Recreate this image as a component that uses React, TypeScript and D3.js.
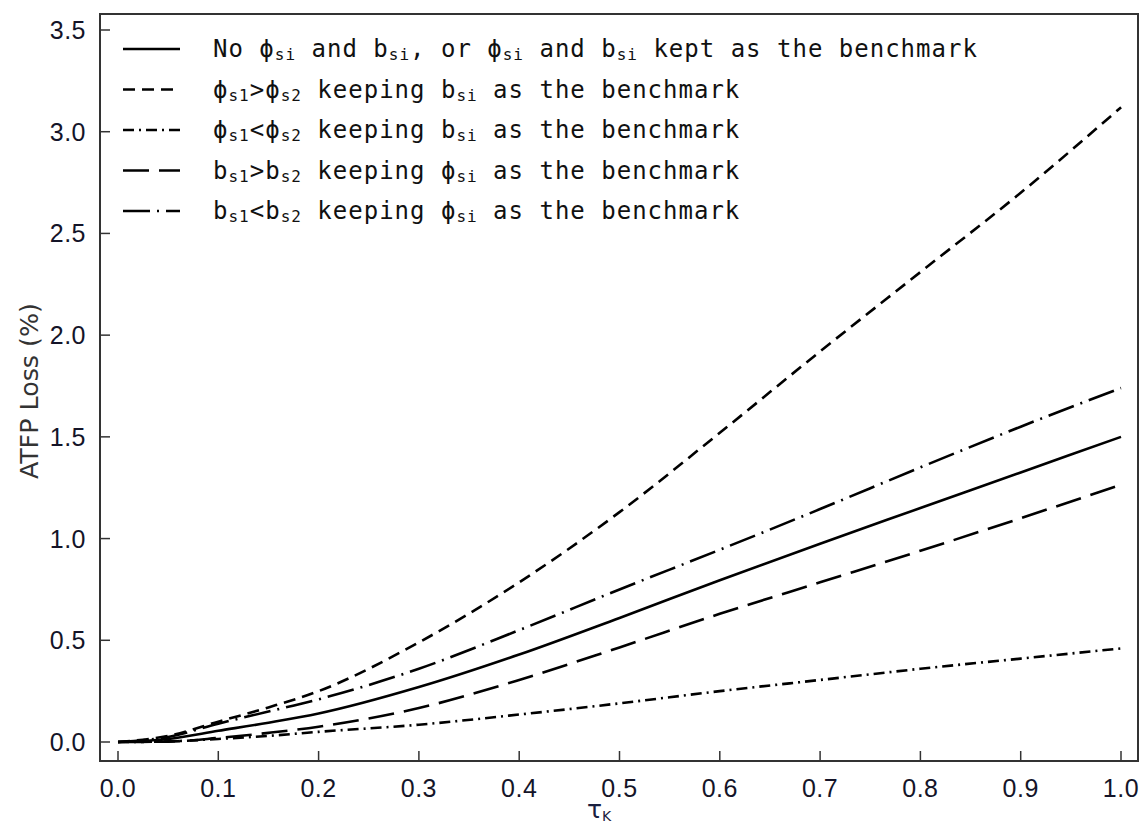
import React from 'react';
import * as d3 from 'd3';

// tau_K values on the x axis
const tau = [0, 0.05, 0.1, 0.15, 0.2, 0.3, 0.4, 0.5, 0.6, 0.7, 0.8, 0.9, 1.0];

// ATFP loss (%) per scenario
const lossBase = [0, 0.015, 0.055, 0.095, 0.14, 0.27, 0.43, 0.61, 0.795, 0.975, 1.15, 1.325, 1.5];
const lossPhiHigh = [0, 0.03, 0.1, 0.17, 0.25, 0.49, 0.785, 1.13, 1.52, 1.92, 2.31, 2.7, 3.12];
const lossPhiLow = [0, 0.003, 0.015, 0.03, 0.05, 0.085, 0.135, 0.19, 0.25, 0.305, 0.36, 0.41, 0.46];
const lossBHigh = [0, 0.002, 0.02, 0.045, 0.075, 0.167, 0.305, 0.465, 0.63, 0.785, 0.94, 1.1, 1.265];
const lossBLow = [0, 0.025, 0.09, 0.15, 0.21, 0.36, 0.55, 0.75, 0.945, 1.145, 1.35, 1.55, 1.74];

const xTicks = [0, 0.1, 0.2, 0.3, 0.4, 0.5, 0.6, 0.7, 0.8, 0.9, 1.0];
const yTicks = [0, 0.5, 1.0, 1.5, 2.0, 2.5, 3.0, 3.5];

// legend text pieces: [text, isSubscript]
const legendLabels: [string, boolean][][] = [
  [['No ϕ', false], ['si', true], [' and b', false], ['si', true], [', or ϕ', false], ['si', true], [' and b', false], ['si', true], [' kept as the benchmark', false]],
  [['ϕ', false], ['s1', true], ['>ϕ', false], ['s2', true], [' keeping b', false], ['si', true], [' as the benchmark', false]],
  [['ϕ', false], ['s1', true], ['<ϕ', false], ['s2', true], [' keeping b', false], ['si', true], [' as the benchmark', false]],
  [['b', false], ['s1', true], ['>b', false], ['s2', true], [' keeping ϕ', false], ['si', true], [' as the benchmark', false]],
  [['b', false], ['s1', true], ['<b', false], ['s2', true], [' keeping ϕ', false], ['si', true], [' as the benchmark', false]],
];

const seriesValues = [lossBase, lossPhiHigh, lossPhiLow, lossBHigh, lossBLow];
const dashes = ['none', '12,7', '11,5,2,5', '26,10', '27,7,2,7'];

export default function App() {
  const width = 1142;
  const height = 823;
  const box = { left: 100, right: 1138, top: 14, bottom: 761 };

  const x = d3.scaleLinear().domain([0, 1]).range([118, 1121]);
  const y = d3.scaleLinear().domain([0, 3.5]).range([742, 30]);

  const line = d3
    .line<number>()
    .x((_, i) => x(tau[i]))
    .y((d) => y(d))
    .curve(d3.curveMonotoneX);

  const tickFont = 'Liberation Sans, Arial, sans-serif';
  const monoFont = 'DejaVu Sans Mono, monospace';

  return (
    <svg
      width={width}
      height={height}
      style={{ position: 'absolute', left: 0, top: 0, background: '#fff' }}
    >
      <rect x={0} y={0} width={width} height={height} fill="#fff" />

      {/* curves */}
      {seriesValues.map((vals, i) => (
        <path
          key={i}
          d={line(vals) || ''}
          fill="none"
          stroke="#000"
          strokeWidth={2.6}
          strokeDasharray={dashes[i]}
        />
      ))}

      {/* frame */}
      <rect
        x={box.left}
        y={box.top}
        width={box.right - box.left}
        height={box.bottom - box.top}
        fill="none"
        stroke="#333"
        strokeWidth={2}
      />

      {/* y ticks */}
      {yTicks.map((t) => (
        <g key={'y' + t}>
          <line x1={box.left} x2={box.left + 10} y1={y(t)} y2={y(t)} stroke="#333" strokeWidth={1.5} />
          <text
            x={86}
            y={y(t) + 9}
            textAnchor="end"
            fontFamily={tickFont}
            fontSize={25}
            letterSpacing={0.5}
            fill="#141428"
          >
            {t.toFixed(1)}
          </text>
        </g>
      ))}

      {/* x ticks */}
      {xTicks.map((t) => (
        <g key={'x' + t}>
          <line x1={x(t)} x2={x(t)} y1={box.bottom} y2={box.bottom - 10} stroke="#333" strokeWidth={1.5} />
          <text
            x={x(t)}
            y={797}
            textAnchor="middle"
            fontFamily={tickFont}
            fontSize={25}
            letterSpacing={0.5}
            fill="#141428"
          >
            {t.toFixed(1)}
          </text>
        </g>
      ))}

      {/* axis titles */}
      <text
        transform="translate(38,391) rotate(-90)"
        textAnchor="middle"
        fontFamily="Liberation Sans Narrow, DejaVu Sans Condensed, Roboto, sans-serif"
        fontSize={25}
        textLength={176}
        lengthAdjust="spacingAndGlyphs"
        fill="#333"
      >
        ATFP Loss (%)
      </text>
      <text x={587} y={818} fontFamily="DejaVu Sans, sans-serif" fontSize={25} fill="#1a2040">
        τ
        <tspan fontSize={14} dy={3}>K</tspan>
      </text>

      {/* legend */}
      {legendLabels.map((parts, i) => {
        const cy = 49 + i * 40.5;
        return (
          <g key={'lg' + i}>
            <line
              x1={123}
              x2={180}
              y1={cy}
              y2={cy}
              stroke="#000"
              strokeWidth={2.6}
              strokeDasharray={dashes[i]}
            />
            <text x={213} y={cy + 8} fontFamily={monoFont} fontSize={24} letterSpacing={1} fill="#111">
              {parts.map(([txt, sub], j) =>
                sub ? (
                  <tspan key={j} fontSize={16} dy={3}>
                    {txt}
                  </tspan>
                ) : (
                  <tspan key={j} dy={j > 0 && parts[j - 1][1] ? -3 : 0} xmlSpace="preserve">
                    {txt}
                  </tspan>
                )
              )}
            </text>
          </g>
        );
      })}
    </svg>
  );
}
